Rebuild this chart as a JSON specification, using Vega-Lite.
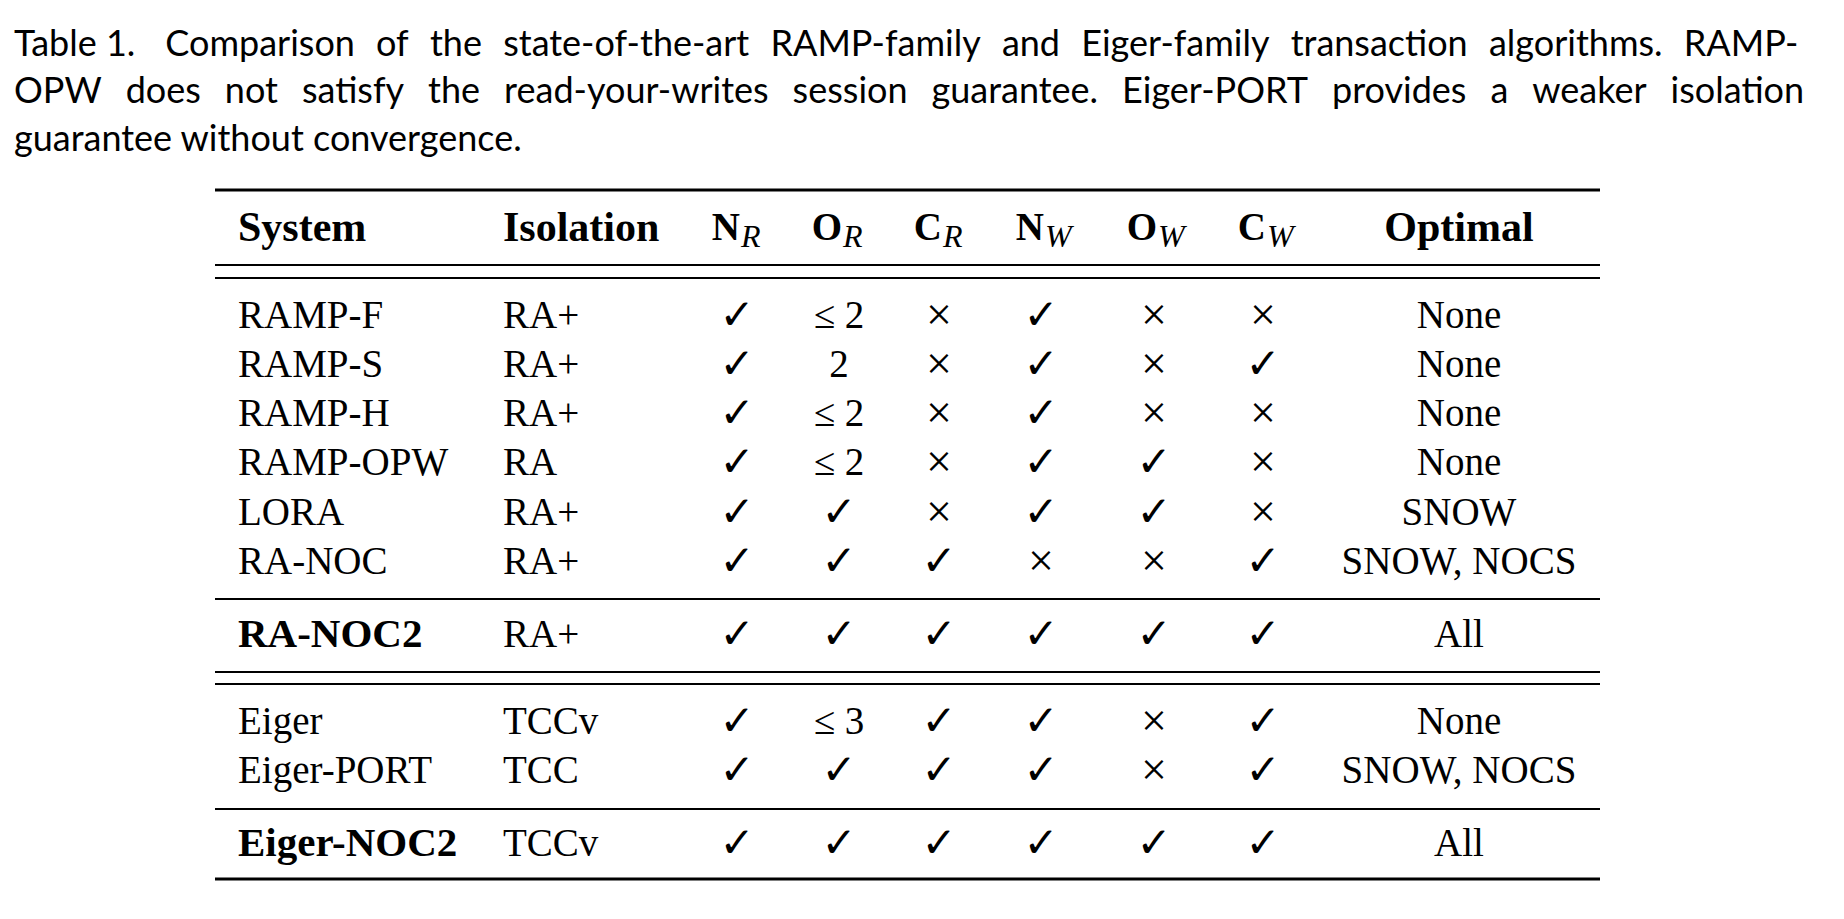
{
  "$schema": "https://vega.github.io/schema/vega-lite/v6.json",
  "width": 1844,
  "height": 919,
  "padding": 0,
  "autosize": {"type": "none"},
  "background": "white",
  "config": {"view": {"stroke": null}},
  "datasets": {
    "caption": [
      {"line": -3, "text": "Table 1.\u2002\u2004Comparison\u2004 of\u2004 the\u2004 state-of-the-art\u2004 RAMP-family\u2004 and\u2004 Eiger-family\u2004 transaction\u2004 algorithms.\u2004 RAMP-"},
      {"line": -2, "text": "OPW\u2002\u2006does\u2002\u2006not\u2002\u2006satisfy\u2002\u2006the\u2002\u2006read-your-writes\u2002\u2006session\u2002\u2006guarantee.\u2002\u2006Eiger-PORT\u2002\u2006provides\u2002\u2006a\u2002\u2006weaker\u2002\u2006isolation"},
      {"line": -1, "text": "guarantee without convergence."}
    ],
    "rules": [
      {"pos": -0.5, "kind": "outer"},
      {"pos": 0.45, "kind": "inner"},
      {"pos": 0.55, "kind": "inner"},
      {"pos": 6.5, "kind": "inner"},
      {"pos": 7.45, "kind": "inner"},
      {"pos": 7.55, "kind": "inner"},
      {"pos": 9.5, "kind": "inner"},
      {"pos": 10.5, "kind": "outer"}
    ],
    "headers": [
      {"col": 1, "label": "System"},
      {"col": 2, "label": "Isolation"},
      {"col": 9, "label": "Optimal"}
    ],
    "subheaders": [
      {"col": 3, "base": "N", "sub": "R"},
      {"col": 4, "base": "O", "sub": "R"},
      {"col": 5, "base": "C", "sub": "R"},
      {"col": 6, "base": "N", "sub": "W"},
      {"col": 7, "base": "O", "sub": "W"},
      {"col": 8, "base": "C", "sub": "W"}
    ],
    "cols": [
      {"key": "NR", "col": 3},
      {"key": "OR", "col": 4},
      {"key": "CR", "col": 5},
      {"key": "NW", "col": 6},
      {"key": "OW", "col": 7},
      {"key": "CW", "col": 8},
      {"key": "Optimal", "col": 9}
    ],
    "table": [
      {"row": 1, "System": "RAMP-F", "Isolation": "RA+", "NR": "✓", "OR": "≤ 2", "CR": "×", "NW": "✓", "OW": "×", "CW": "×", "Optimal": "None"},
      {"row": 2, "System": "RAMP-S", "Isolation": "RA+", "NR": "✓", "OR": "2", "CR": "×", "NW": "✓", "OW": "×", "CW": "✓", "Optimal": "None"},
      {"row": 3, "System": "RAMP-H", "Isolation": "RA+", "NR": "✓", "OR": "≤ 2", "CR": "×", "NW": "✓", "OW": "×", "CW": "×", "Optimal": "None"},
      {"row": 4, "System": "RAMP-OPW", "Isolation": "RA", "NR": "✓", "OR": "≤ 2", "CR": "×", "NW": "✓", "OW": "✓", "CW": "×", "Optimal": "None"},
      {"row": 5, "System": "LORA", "Isolation": "RA+", "NR": "✓", "OR": "✓", "CR": "×", "NW": "✓", "OW": "✓", "CW": "×", "Optimal": "SNOW"},
      {"row": 6, "System": "RA-NOC", "Isolation": "RA+", "NR": "✓", "OR": "✓", "CR": "✓", "NW": "×", "OW": "×", "CW": "✓", "Optimal": "SNOW, NOCS"},
      {"row": 7, "System": "RA-NOC2", "Isolation": "RA+", "NR": "✓", "OR": "✓", "CR": "✓", "NW": "✓", "OW": "✓", "CW": "✓", "Optimal": "All"},
      {"row": 8, "System": "Eiger", "Isolation": "TCCv", "NR": "✓", "OR": "≤ 3", "CR": "✓", "NW": "✓", "OW": "×", "CW": "✓", "Optimal": "None"},
      {"row": 9, "System": "Eiger-PORT", "Isolation": "TCC", "NR": "✓", "OR": "✓", "CR": "✓", "NW": "✓", "OW": "×", "CW": "✓", "Optimal": "SNOW, NOCS"},
      {"row": 10, "System": "Eiger-NOC2", "Isolation": "TCCv", "NR": "✓", "OR": "✓", "CR": "✓", "NW": "✓", "OW": "✓", "CW": "✓", "Optimal": "All"}
    ]
  },
  "resolve": {"scale": {"x": "shared", "y": "shared"}},
  "layer": [
    {
      "data": {"name": "rules"},
      "transform": [{"filter": "datum.kind === 'outer'"}],
      "mark": {"type": "rule", "color": "black", "strokeWidth": 3.2},
      "encoding": {
        "y": {"field": "pos", "type": "quantitative", "scale": {"domain": [-3, -2, -1, -0.5, 0, 0.45, 0.55, 1, 2, 3, 4, 5, 6, 6.5, 7, 7.45, 7.55, 8, 9, 9.5, 10, 10.5], "range": [45, 92, 140, 190, 228, 265, 278, 315.5, 364.5, 414, 463, 513, 562, 599, 635, 672, 684, 722, 771, 809, 844, 879], "nice": false, "zero": false}, "axis": null},
        "x": {"datum": 0, "type": "quantitative", "scale": {"domain": [-1, 0, 1, 2, 3, 4, 5, 6, 7, 8, 9, 10], "range": [14, 215, 238, 503, 737, 839, 939, 1041, 1154, 1263, 1459, 1600], "nice": false, "zero": false}, "axis": null},
        "x2": {"datum": 10}
      }
    },
    {
      "data": {"name": "rules"},
      "transform": [{"filter": "datum.kind === 'inner'"}],
      "mark": {"type": "rule", "color": "black", "strokeWidth": 2.2},
      "encoding": {
        "y": {"field": "pos", "type": "quantitative"},
        "x": {"datum": 0, "type": "quantitative"},
        "x2": {"datum": 10}
      }
    },
    {
      "data": {"name": "caption"},
      "mark": {"type": "text", "align": "left", "baseline": "middle", "font": "Lato", "fontSize": 36, "color": "black"},
      "encoding": {
        "y": {"field": "line", "type": "quantitative"},
        "x": {"datum": -1, "type": "quantitative"},
        "text": {"field": "text"}
      }
    },
    {
      "data": {"name": "headers"},
      "transform": [{"filter": "datum.col <= 2"}],
      "mark": {"type": "text", "align": "left", "baseline": "middle", "font": "Liberation Serif", "fontWeight": "bold", "fontSize": 42, "color": "black"},
      "encoding": {
        "y": {"datum": 0, "type": "quantitative"},
        "x": {"field": "col", "type": "quantitative"},
        "text": {"field": "label"}
      }
    },
    {
      "data": {"name": "headers"},
      "transform": [{"filter": "datum.col > 2"}],
      "mark": {"type": "text", "align": "center", "baseline": "middle", "font": "Liberation Serif", "fontWeight": "bold", "fontSize": 42, "color": "black"},
      "encoding": {
        "y": {"datum": 0, "type": "quantitative"},
        "x": {"field": "col", "type": "quantitative"},
        "text": {"field": "label"}
      }
    },
    {
      "data": {"name": "subheaders"},
      "mark": {"type": "text", "align": "right", "baseline": "middle", "dx": 3, "font": "Liberation Serif", "fontWeight": "bold", "fontSize": 39, "color": "black"},
      "encoding": {
        "y": {"datum": 0, "type": "quantitative"},
        "x": {"field": "col", "type": "quantitative"},
        "text": {"field": "base"}
      }
    },
    {
      "data": {"name": "subheaders"},
      "mark": {"type": "text", "align": "left", "baseline": "middle", "dx": 4, "dy": 9, "font": "Liberation Serif", "fontStyle": "italic", "fontSize": 32, "color": "black"},
      "encoding": {
        "y": {"datum": 0, "type": "quantitative"},
        "x": {"field": "col", "type": "quantitative"},
        "text": {"field": "sub"}
      }
    },
    {
      "data": {"name": "table"},
      "transform": [{"filter": "datum.row !== 7 && datum.row !== 10"}],
      "mark": {"type": "text", "align": "left", "baseline": "middle", "font": "Liberation Serif", "fontSize": 39, "color": "black"},
      "encoding": {
        "y": {"field": "row", "type": "quantitative"},
        "x": {"datum": 1, "type": "quantitative"},
        "text": {"field": "System"}
      }
    },
    {
      "data": {"name": "table"},
      "transform": [{"filter": "datum.row === 7 || datum.row === 10"}],
      "mark": {"type": "text", "align": "left", "baseline": "middle", "font": "Liberation Serif", "fontWeight": "bold", "fontSize": 41, "color": "black"},
      "encoding": {
        "y": {"field": "row", "type": "quantitative"},
        "x": {"datum": 1, "type": "quantitative"},
        "text": {"field": "System"}
      }
    },
    {
      "data": {"name": "table"},
      "mark": {"type": "text", "align": "left", "baseline": "middle", "font": "Liberation Serif", "fontSize": 39, "color": "black"},
      "encoding": {
        "y": {"field": "row", "type": "quantitative"},
        "x": {"datum": 2, "type": "quantitative"},
        "text": {"field": "Isolation"}
      }
    },
    {
      "data": {"name": "table"},
      "transform": [
        {"fold": ["NR", "OR", "CR", "NW", "OW", "CW", "Optimal"], "as": ["key", "value"]},
        {"lookup": "key", "from": {"data": {"name": "cols"}, "key": "key", "fields": ["col"]}},
        {"filter": "datum.value !== '✓' && datum.value !== '×'"}
      ],
      "mark": {"type": "text", "align": "center", "baseline": "middle", "font": "Liberation Serif", "fontSize": 39, "color": "black"},
      "encoding": {
        "y": {"field": "row", "type": "quantitative"},
        "x": {"field": "col", "type": "quantitative"},
        "text": {"field": "value"}
      }
    },
    {
      "data": {"name": "table"},
      "transform": [
        {"fold": ["NR", "OR", "CR", "NW", "OW", "CW", "Optimal"], "as": ["key", "value"]},
        {"lookup": "key", "from": {"data": {"name": "cols"}, "key": "key", "fields": ["col"]}},
        {"filter": "datum.value === '✓'"}
      ],
      "mark": {"type": "text", "align": "center", "baseline": "middle", "font": "DejaVu Sans", "fontSize": 42, "color": "black"},
      "encoding": {
        "y": {"field": "row", "type": "quantitative"},
        "x": {"field": "col", "type": "quantitative"},
        "text": {"field": "value"}
      }
    },
    {
      "data": {"name": "table"},
      "transform": [
        {"fold": ["NR", "OR", "CR", "NW", "OW", "CW", "Optimal"], "as": ["key", "value"]},
        {"lookup": "key", "from": {"data": {"name": "cols"}, "key": "key", "fields": ["col"]}},
        {"filter": "datum.value === '×'"}
      ],
      "mark": {"type": "text", "align": "center", "baseline": "middle", "font": "Liberation Serif", "fontSize": 46, "color": "black"},
      "encoding": {
        "y": {"field": "row", "type": "quantitative"},
        "x": {"field": "col", "type": "quantitative"},
        "text": {"field": "value"}
      }
    }
  ]
}
